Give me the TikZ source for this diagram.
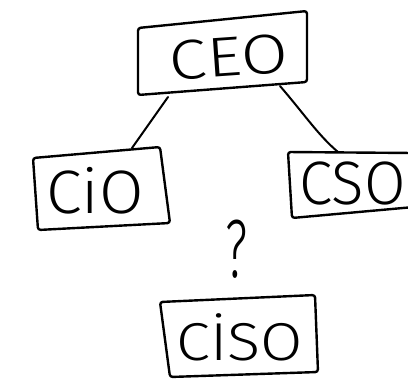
\documentclass[tikz,border=0pt]{standalone}
\usepackage{fontspec}
\setmainfont{Fira Sans}[UprightFont={* Light}]
\begin{document}
\begin{tikzpicture}[x=0.75pt,y=-0.75pt,
  box/.style={line width=1.8pt, line join=round, line cap=round, rounded corners=2pt},
  link/.style={line width=1.5pt, line cap=round},
  lbl/.style={inner sep=0pt, font=\fontsize{40}{40}\selectfont}]
\useasboundingbox (0,0) rectangle (408,380);
\begin{scope}
\clip (0,0) rectangle (408,380);
% labels
\node[lbl, font=\fontsize{42}{42}\selectfont, rotate=4, xscale=1.22] (ceo) at (229,57) {CEO};
\node[lbl, font=\fontsize{46}{46}\selectfont, xscale=1.05] (cio) at (95,191) {CiO};
\node[lbl, font=\fontsize{46}{46}\selectfont, xscale=0.98, anchor=east] (cso) at (406,183) {CSO};
\node[lbl, font=\fontsize{40}{40}\selectfont, xscale=1.15] (ciso) at (240,337) {CİSO};
\node[lbl, font=\fontsize{62}{62}\selectfont, xscale=0.6] (q) at (237,249) {?};
% boxes
\draw[box] (138,28) -- (307,11) -- (307,82) -- (138,95) -- cycle;
\draw[box] (33,158) -- (160,147) -- (170,223) -- (38,230) -- cycle;
\draw[box] (414,153) -- (288,152) -- (292,218) -- (414,207);
\draw[box] (160,302) -- (315,295) -- (318,372) -- (170,377) -- cycle;
% connector end points
\coordinate (ceoL) at (168,97);
\coordinate (ceoR) at (280,86);
\coordinate (cioT) at (132,148);
\coordinate (csoT) at (338,152);
\draw[link] (ceoL) -- (cioT);
\draw[link] (ceoR) .. controls (305,115) and (318,135) .. (csoT);
\end{scope}
\end{tikzpicture}
\end{document}
